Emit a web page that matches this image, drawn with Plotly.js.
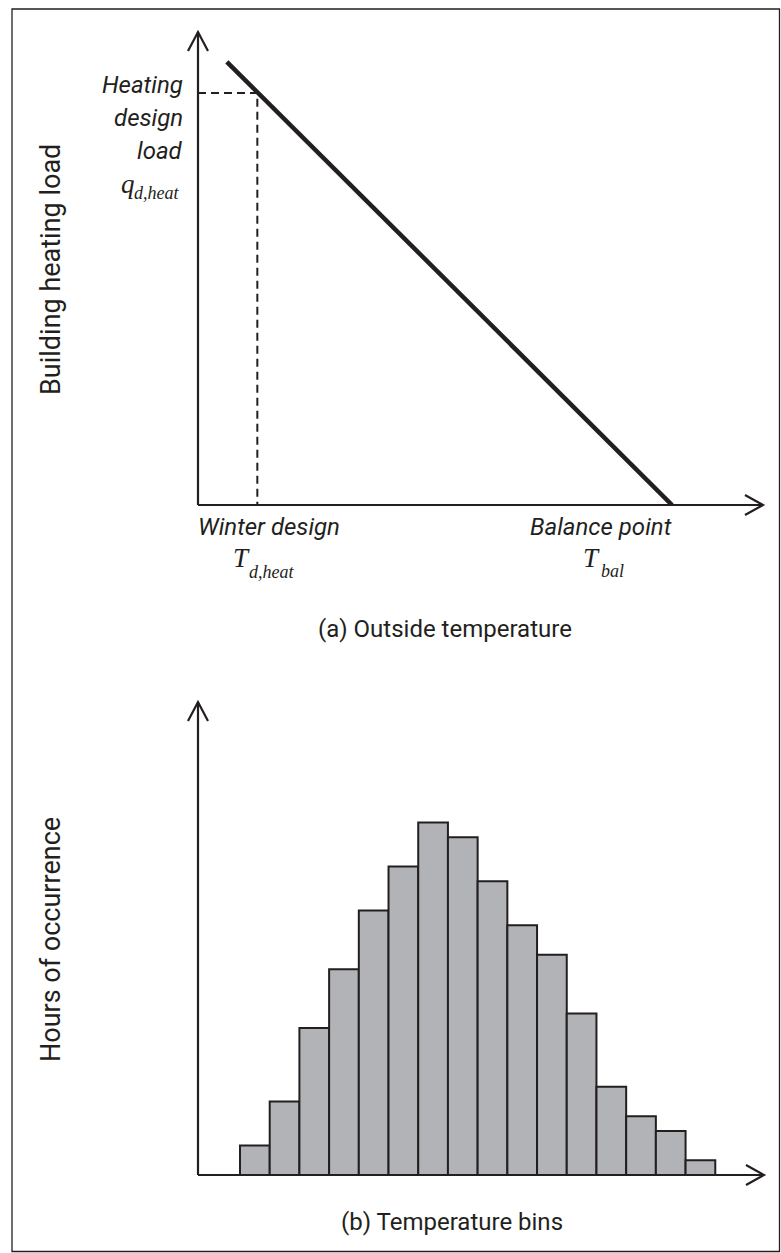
<!DOCTYPE html>
<html>
<head>
<meta charset="utf-8">
<script src="https://cdn.plot.ly/plotly-3.0.1.min.js"></script>
<style>
  html, body { margin: 0; padding: 0; background: #ffffff; }
  #chart { width: 781px; height: 1253px; }
</style>
</head>
<body>
<div id="chart"></div>
<script>
// ---------------- data ----------------
// (a) building heating load vs outside temperature (relative units, 0-100)
const loadLineTemp = [5.1, 83.9];     // outside temperature at line ends
const loadLineValue = [93.7, 0];      // heating load at line ends
const designTemp = 10.5;              // winter design temperature T_d,heat
const designLoad = 87.1;              // heating design load q_d,heat

// (b) temperature bins histogram (relative hours)
const binIndex = [1, 2, 3, 4, 5, 6, 7, 8, 9, 10, 11, 12, 13, 14, 15, 16];
const binHours = [2, 5, 10, 14, 18, 21, 24, 23, 20, 17, 15, 11, 6, 4, 3, 1];

// text
const titleA = "(a) Outside temperature";
const titleB = "(b) Temperature bins";
const yTitleA = "Building heating load";
const yTitleB = "Hours of occurrence";

// ---------------- styling ----------------
const W = 781, H = 1253;
const PX = x => x / W;
const PY = y => 1 - y / H;
const INK = "#231f20";
const SANS = "Roboto, 'Liberation Sans', Arial, sans-serif";
const SERIF = "'Liberation Serif', 'Times New Roman', serif";

const traces = [
  {
    type: "scatter", mode: "lines", xaxis: "x", yaxis: "y",
    x: [0, designTemp, designTemp], y: [designLoad, designLoad, 0],
    line: { color: INK, width: 2, dash: "8px,5px" }, hoverinfo: "skip"
  },
  {
    type: "scatter", mode: "lines", xaxis: "x", yaxis: "y",
    x: loadLineTemp, y: loadLineValue,
    line: { color: INK, width: 4.5 }, hoverinfo: "skip"
  },
  {
    type: "bar", xaxis: "x2", yaxis: "y2",
    x: binIndex, y: binHours, width: 1,
    marker: { color: "#b1b3b6", line: { color: INK, width: 2 } },
    hoverinfo: "skip"
  }
];

const hiddenAxis = {
  showgrid: false, zeroline: false, showline: false,
  showticklabels: false, ticks: "", fixedrange: true
};

function axisShapes(xr, yr) {
  const xd = xr + " domain", yd = yr + " domain";
  const st = { color: INK, width: 2.2 };
  return [
    { type: "line", xref: xd, yref: yd, x0: 0, x1: 1, y0: 0, y1: 0, line: st },
    { type: "line", xref: xd, yref: yd, x0: 0, x1: 0, y0: 0, y1: 1, line: st },
    { type: "path", xref: xd, yref: yd, xsizemode: "pixel", ysizemode: "pixel",
      xanchor: 1, yanchor: 0, path: "M-18,10 L0,0 L-18,-10", line: st },
    { type: "path", xref: xd, yref: yd, xsizemode: "pixel", ysizemode: "pixel",
      xanchor: 0, yanchor: 1, path: "M-10,-19 L0,0 L10,-19", line: st }
  ];
}

const shapes = [
  ...axisShapes("x", "y"),
  ...axisShapes("x2", "y2"),
  { type: "rect", xref: "paper", yref: "paper",
    x0: PX(12), x1: PX(779.5), y0: PY(1251.5), y1: PY(9),
    line: { color: INK, width: 1.3 } }
];

function txt(text, x, y, size, family, xanchor, extra) {
  return Object.assign({
    xref: "paper", yref: "paper", x: PX(x), y: PY(y), text: text,
    showarrow: false, font: { family: family, size: size, color: INK },
    xanchor: xanchor, yanchor: "middle"
  }, extra || {});
}

const annotations = [
  txt("<i>Heating</i>", 185, 85, 24, SANS, "right"),
  txt("<i>design</i>", 185, 118, 24, SANS, "right"),
  txt("<i>load</i>", 185, 151, 24, SANS, "right"),
  txt("<i>q</i>", 119, 184, 27, SERIF, "left"),
  txt("<i>d,heat</i>", 132, 193, 18, SERIF, "left"),

  txt("<i>Winter design</i>", 196, 527, 24, SANS, "left"),
  txt("<i>T</i>", 231, 558, 27, SERIF, "left"),
  txt("<i>d,heat</i>", 247, 572, 18, SERIF, "left"),

  txt("<i>Balance point</i>", 674, 527, 24, SANS, "right"),
  txt("<i>T</i>", 581, 558, 27, SERIF, "left"),
  txt("<i>bal</i>", 599, 571, 18, SERIF, "left"),

  txt(titleA, 445, 629, 24, SANS, "center"),
  txt(titleB, 452, 1222, 24, SANS, "center"),

  txt(yTitleA, 51, 270, 27, SANS, "center", { textangle: -90 }),
  txt(yTitleB, 51, 940, 27, SANS, "center", { textangle: -90 })
];

const layout = {
  width: W, height: H,
  margin: { l: 0, r: 0, t: 0, b: 0, pad: 0 },
  paper_bgcolor: "#ffffff", plot_bgcolor: "rgba(0,0,0,0)",
  showlegend: false, bargap: 0,
  xaxis: Object.assign({}, hiddenAxis, { domain: [PX(198), PX(763)], range: [0, 100], anchor: "y" }),
  yaxis: Object.assign({}, hiddenAxis, { domain: [PY(505), PY(32)], range: [0, 100], anchor: "x" }),
  xaxis2: Object.assign({}, hiddenAxis, { domain: [PX(198), PX(764)], range: [-0.914, 18.14], anchor: "y2" }),
  yaxis2: Object.assign({}, hiddenAxis, { domain: [PY(1175), PY(702)], range: [0, 32.2], anchor: "x2" }),
  shapes: shapes,
  annotations: annotations
};

Plotly.newPlot("chart", traces, layout, { staticPlot: true, displayModeBar: false });
</script>
</body>
</html>
